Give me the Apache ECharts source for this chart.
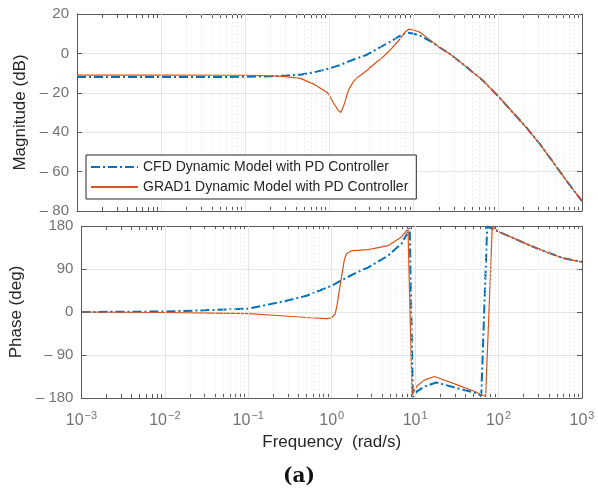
<!DOCTYPE html>
<html>
<head>
<meta charset="utf-8">
<script src="https://cdn.jsdelivr.net/npm/echarts@6/dist/echarts.min.js"></script>
<style>
  html, body { margin: 0; padding: 0; background: #fff; }
  #chart { width: 598px; height: 497px; }
</style>
</head>
<body>
<div id="chart"></div>
<script>
// Bode plot: magnitude and phase of two dynamic models with a PD controller

const seriesNames = ['CFD Dynamic Model with PD Controller', 'GRAD1 Dynamic Model with PD Controller'];

// Magnitude (dB)
const magFreqCFD = [0.001, 0.01, 0.1, 0.2, 0.3, 0.45, 0.64, 1.0, 1.33, 1.9, 2.75, 3.96, 5.7, 7.5, 8.6, 9.8, 11.9, 17, 20.4, 27, 43, 67, 100, 151, 219, 316, 417, 655, 1000];
const magCFD     = [-12, -12, -11.9, -11.6, -11.3, -10.8, -9.7, -7.6, -5.9, -3.2, -0.8, 3, 6.8, 9.9, 10.5, 10.1, 9, 5.4, 3, -0.3, -7.1, -13.9, -21.5, -30, -37.7, -46, -53, -64.7, -75];

const magFreqGRAD1 = [0.001, 0.01, 0.1, 0.2, 0.3, 0.45, 0.65, 0.94, 1.0, 1.107, 1.2, 1.26, 1.31, 1.36, 1.41, 1.46, 1.53, 1.6, 1.7, 1.9, 2.05, 2.3, 2.75, 3.4, 4.35, 5.5, 6.86, 8.0, 8.8, 10.5, 11.9, 17, 20.4, 27, 43, 67, 100, 151, 219, 316, 417, 655, 1000];
const magGRAD1     = [-11, -11, -11.1, -11.4, -11.8, -12.7, -15.6, -19.8, -21.5, -24.9, -27.2, -28.8, -29.6, -30, -29, -27.1, -24.5, -21.5, -18.2, -14.7, -12.9, -11.3, -8.8, -5.4, -1.7, 2.6, 7.3, 11, 12.4, 11.6, 10.7, 5.6, 3, -0.3, -7.1, -13.9, -21.5, -30, -37.7, -46, -53, -64.7, -75];

// Phase (deg)
const phFreqCFD = [0.001, 0.01, 0.029, 0.1, 0.28, 0.5, 1.0, 1.33, 1.9, 2.75, 4.75, 6.86, 8.2, 8.6, 9.4, 10.5, 13, 17.8, 32, 51, 62, 73, 106, 151, 240, 380, 600, 1000];
const phCFD     = [0, 1, 3.6, 7, 23, 34, 55, 67, 81, 93.5, 118, 143, 167, 176, -178, -166, -156, -147.5, -159.4, -168.6, -175, 179, 166, 154.7, 139, 125, 112.6, 105];

const phFreqGRAD1 = [0.001, 0.01, 0.1, 0.28, 0.55, 0.88, 1.0, 1.1, 1.16, 1.24, 1.33, 1.42, 1.5, 1.75, 2.75, 4.75, 6.86, 8.2, 8.6, 9.2, 10.5, 13, 17, 32, 51, 70, 84, 106, 151, 240, 380, 600, 1000];
const phGRAD1     = [0, -1, -3.5, -8.4, -12, -14, -12, -4, 15, 48, 80, 110, 122, 128.6, 130.7, 139, 157, 174, 178, -173.5, -155, -142, -135, -152.6, -166, -177, 178, 166, 154.7, 139, 125, 112.6, 104.5];

// Axis ticks
const decades = [0.001, 0.01, 0.1, 1, 10, 100, 1000];
const magTicks = [-80, -60, -40, -20, 0, 20];
const phaseTicks = [-180, -90, 0, 90, 180];

const minorFreqs = [];
for (let i = 0; i < decades.length - 1; i++) {
  for (let k = 2; k <= 9; k++) minorFreqs.push(+(k * decades[i]).toPrecision(3));
}
const allFreqTicks = decades.concat(minorFreqs);

const pairs = (xs, ys) => xs.map((x, i) => [x, ys[i]]);

const BLUE = '#0072BD';
const ORANGE = '#D95319';
const AXIS = '#5a5a5a';
const LABEL = '#737373';
const FONT = '"Liberation Sans", Arial, sans-serif';

const signed = v => (v < 0 ? '\u2013 ' + Math.abs(v) : String(v));

function xAxisPair(gridIndex, showLabels) {
  const base = {
    type: 'log', logBase: 10, min: 0.001, max: 1000, gridIndex: gridIndex,
    axisLine: { show: true, onZero: false, lineStyle: { color: AXIS, width: 1 } },
    axisTick: { show: true, inside: true, length: 4, customValues: allFreqTicks, lineStyle: { color: AXIS } },
    splitLine: { show: false },
    minorTick: { show: false }
  };
  return [
    Object.assign({}, base, {
      position: 'bottom',
      axisLabel: showLabels ? {
        show: true, customValues: decades, margin: 12, color: LABEL, fontFamily: FONT,
        formatter: v => {
          const e = Math.round(Math.log10(v));
          return '{b|10}{s|' + (e < 0 ? '\u2212' + (-e) : e) + '}';
        },
        rich: {
          b: { fontSize: 16, color: LABEL, fontFamily: FONT },
          s: { fontSize: 11, color: LABEL, fontFamily: FONT, padding: [0, 0, 11, 1] }
        }
      } : { show: false },
      name: showLabels ? 'Frequency  (rad/s)' : '',
      nameLocation: 'middle', nameGap: 36,
      nameTextStyle: { fontSize: 17, color: '#262626', fontFamily: FONT }
    }),
    Object.assign({}, base, { position: 'top', axisLabel: { show: false } })
  ];
}

function yAxisPair(gridIndex, min, max, interval, title) {
  const base = {
    type: 'value', min: min, max: max, interval: interval, gridIndex: gridIndex,
    axisLine: { show: true, lineStyle: { color: AXIS, width: 1 } },
    axisTick: { show: true, inside: true, length: 5, lineStyle: { color: AXIS } }
  };
  return [
    Object.assign({}, base, {
      position: 'left',
      axisLabel: { show: true, color: LABEL, fontSize: 15, fontFamily: FONT, margin: 8, formatter: signed },
      splitLine: { show: true, lineStyle: { color: '#e6e6e6', width: 1 } },
      name: title, nameLocation: 'middle', nameGap: 45,
      nameTextStyle: { fontSize: 17, color: '#262626', fontFamily: FONT }
    }),
    Object.assign({}, base, { position: 'right', axisLabel: { show: false }, splitLine: { show: false } })
  ];
}

// Vertical grid: solid at decades, dotted at 2..9 within each decade
function gridMarks() {
  const data = [];
  decades.slice(1, -1).forEach(f => data.push({ xAxis: f, lineStyle: { type: 'solid', color: '#e3e3e3', width: 1 } }));
  minorFreqs.forEach(f => data.push({ xAxis: f, lineStyle: { type: [1, 3], color: '#e2e2e2', width: 1 } }));
  return { silent: true, symbol: ['none', 'none'], label: { show: false }, animation: false, data: data };
}

function lineSeries(name, data, xi, yi, color, dashed, withGrid) {
  const s = {
    name: name, type: 'line', xAxisIndex: xi, yAxisIndex: yi, data: data,
    showSymbol: false, symbol: 'none', animation: false, clip: true,
    lineStyle: dashed ? { color: color, width: 2, type: [9, 3, 2, 3] } : { color: color, width: 1.2 },
    itemStyle: { color: color },
    z: dashed ? 3 : 4
  };
  if (withGrid) s.markLine = gridMarks();
  return s;
}

const chart = echarts.init(document.getElementById('chart'), null, { renderer: 'canvas' });

chart.setOption({
  backgroundColor: '#ffffff',
  animation: false,
  textStyle: { fontFamily: FONT },
  title: {
    text: '(a)', left: 'center', top: 462,
    textStyle: { fontFamily: '"DejaVu Serif", "Liberation Serif", serif', fontWeight: 'bold', fontSize: 20, color: '#111' }
  },
  grid: [
    { left: 77, right: 16, top: 14, height: 197 },
    { left: 77, right: 16, top: 226, height: 172 }
  ],
  legend: {
    data: seriesNames,
    orient: 'vertical', left: 86, top: 155, z: 20,
    backgroundColor: '#ffffff', borderColor: '#262626', borderWidth: 1, borderRadius: 0,
    padding: [5, 8, 5, 4], itemGap: 6, itemWidth: 47, itemHeight: 14,
    itemStyle: { opacity: 0 },
    textStyle: { fontSize: 14, color: '#262626', fontFamily: FONT },
    selectedMode: false
  },
  xAxis: xAxisPair(0, false).concat(xAxisPair(1, true)),
  yAxis: yAxisPair(0, -80, 20, 20, 'Magnitude (dB)').concat(yAxisPair(1, -180, 180, 90, 'Phase (deg)')),
  series: [
    lineSeries(seriesNames[0], pairs(magFreqCFD, magCFD), 0, 0, BLUE, true, true),
    lineSeries(seriesNames[1], pairs(magFreqGRAD1, magGRAD1), 0, 0, ORANGE, false, false),
    lineSeries(seriesNames[0], pairs(phFreqCFD, phCFD), 2, 2, BLUE, true, true),
    lineSeries(seriesNames[1], pairs(phFreqGRAD1, phGRAD1), 2, 2, ORANGE, false, false)
  ]
});
</script>
</body>
</html>
